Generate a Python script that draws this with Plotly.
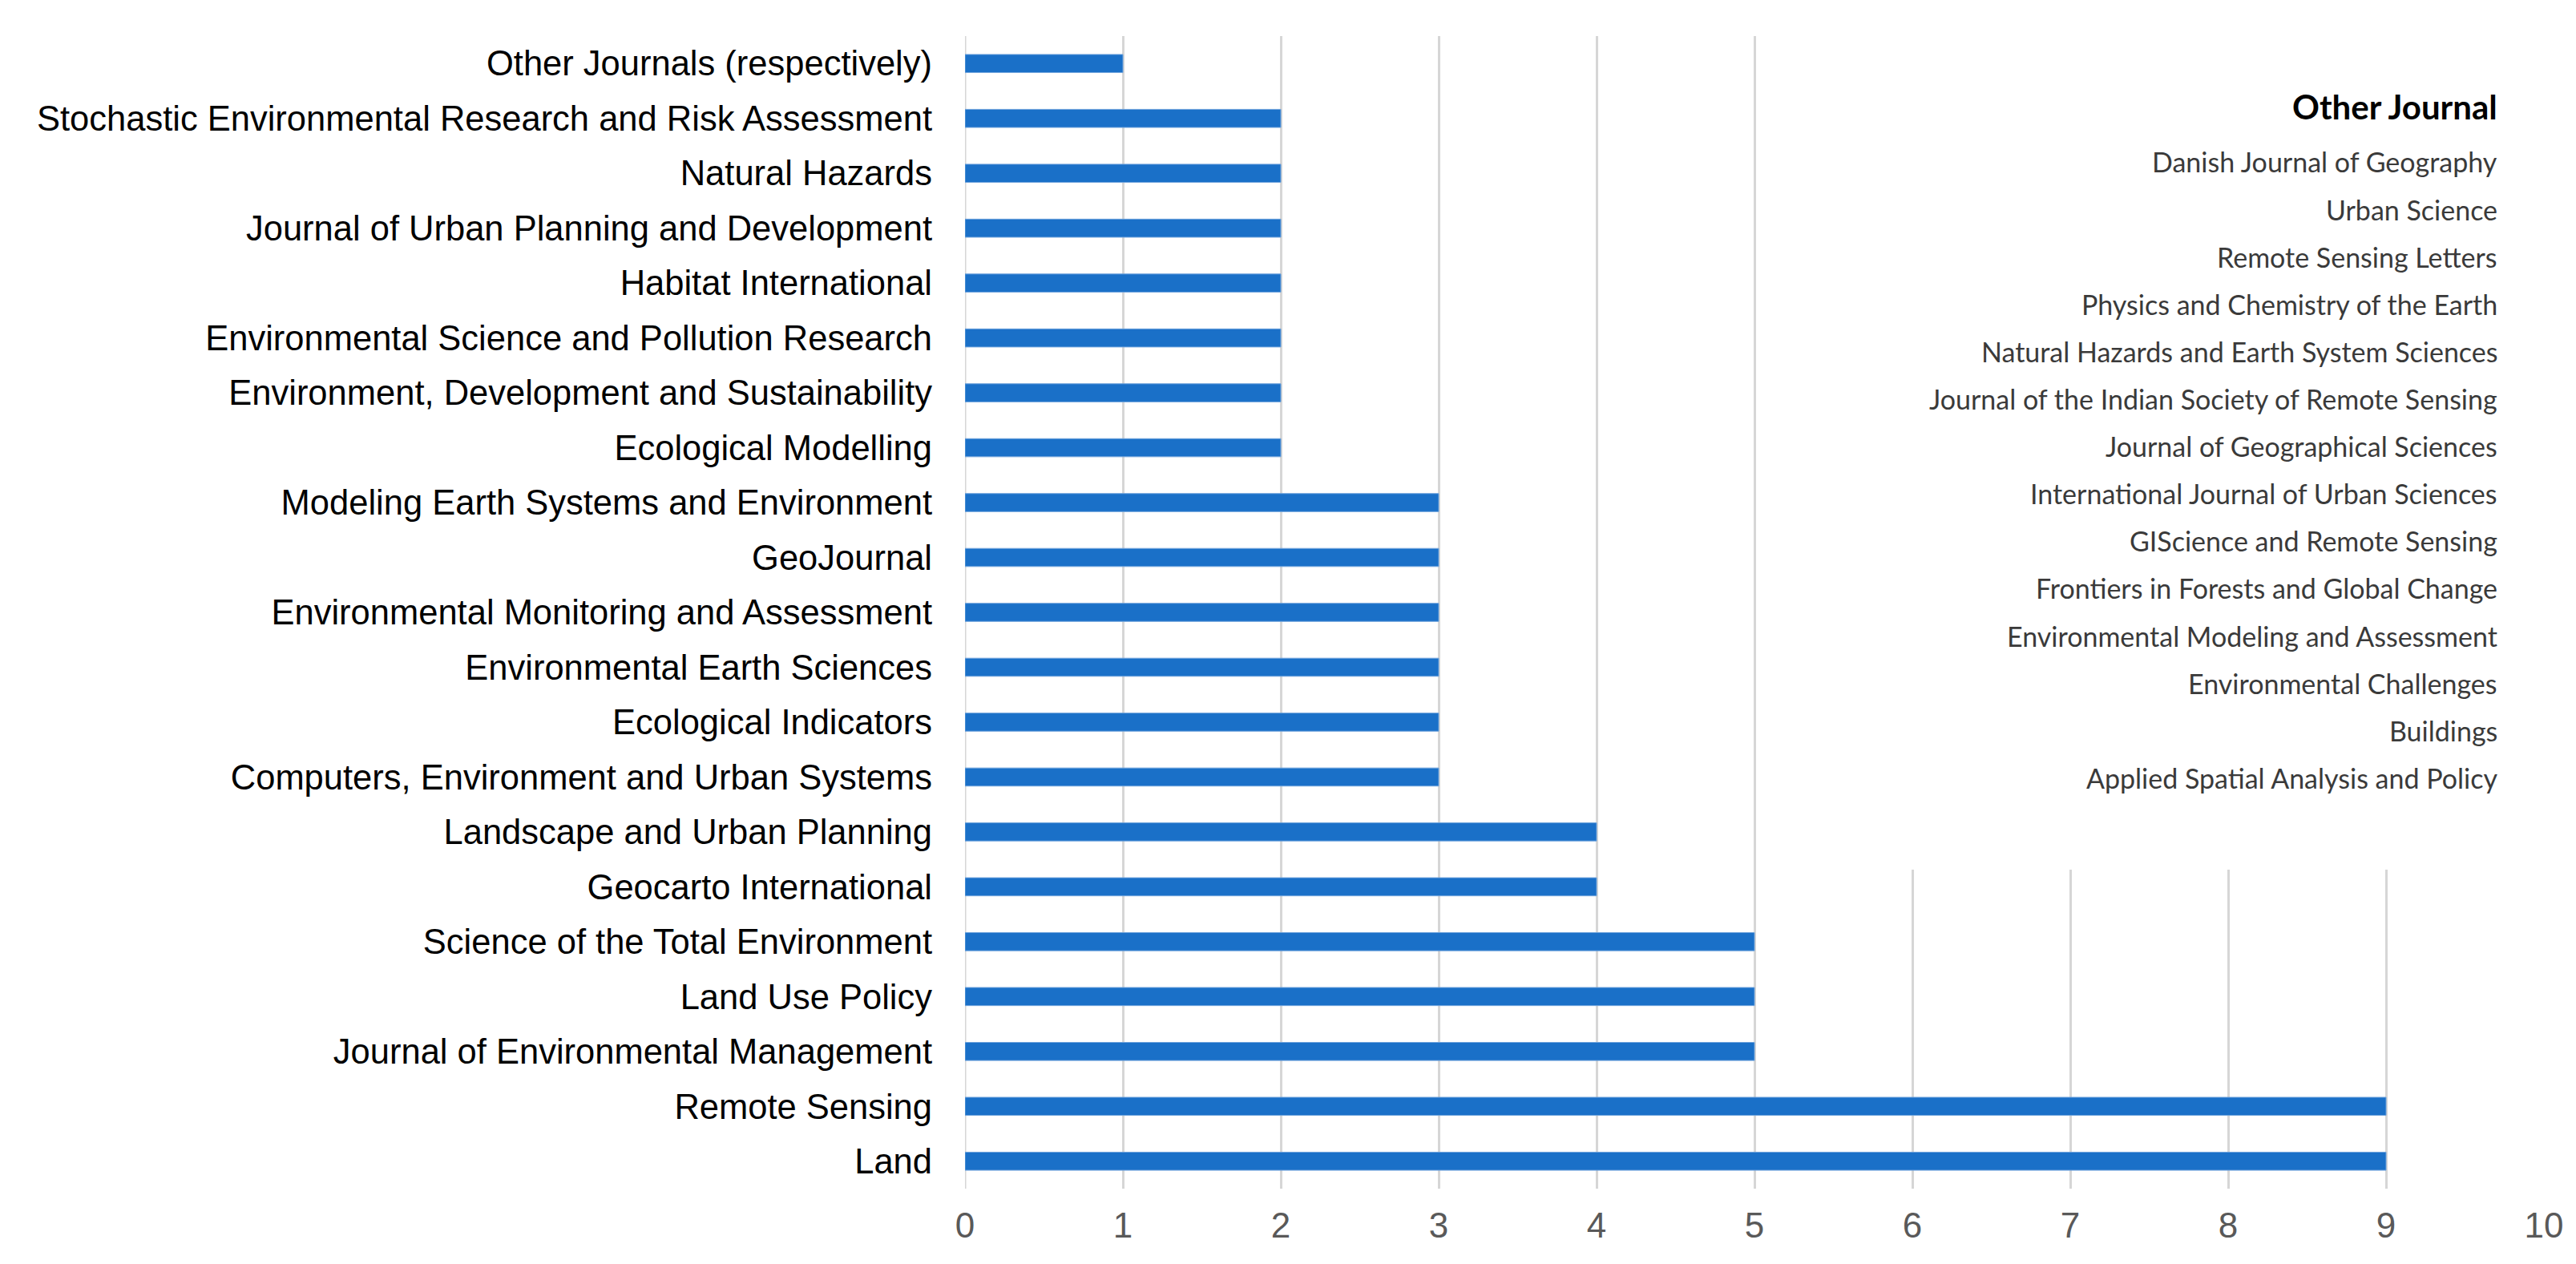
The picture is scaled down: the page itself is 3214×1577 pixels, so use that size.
import plotly.graph_objects as go

# Journals, top to bottom as shown
journals = [
    "Other Journals (respectively)",
    "Stochastic Environmental Research and Risk Assessment",
    "Natural Hazards",
    "Journal of Urban Planning and Development",
    "Habitat International",
    "Environmental Science and Pollution Research",
    "Environment, Development and Sustainability",
    "Ecological Modelling",
    "Modeling Earth Systems and Environment",
    "GeoJournal",
    "Environmental Monitoring and Assessment",
    "Environmental Earth Sciences",
    "Ecological Indicators",
    "Computers, Environment and Urban Systems",
    "Landscape and Urban Planning",
    "Geocarto International",
    "Science of the Total Environment",
    "Land Use Policy",
    "Journal of Environmental Management",
    "Remote Sensing",
    "Land",
]
counts = [1, 2, 2, 2, 2, 2, 2, 2, 3, 3, 3, 3, 3, 3, 4, 4, 5, 5, 5, 9, 9]

# Journals with one article each, listed in the side box
other_title = "Other Journal"
other_journals = [
    "Danish Journal of Geography",
    "Urban Science",
    "Remote Sensing Letters",
    "Physics and Chemistry of the Earth",
    "Natural Hazards and Earth System Sciences",
    "Journal of the Indian Society of Remote Sensing",
    "Journal of Geographical Sciences",
    "International Journal of Urban Sciences",
    "GIScience and Remote Sensing",
    "Frontiers in Forests and Global Change",
    "Environmental Modeling and Assessment",
    "Environmental Challenges",
    "Buildings",
    "Applied Spatial Analysis and Policy",
]
x_ticks = list(range(0, 11))

W, H = 3214, 1577
L, R, T, B = 1196, 48, 37, 102
plot_h = H - T - B

fig = go.Figure()
fig.add_trace(go.Bar(
    x=counts,
    y=journals,
    orientation="h",
    width=0.33,
    marker=dict(color="#1a70c8", line=dict(color="#6fa3dc", width=1)),
    showlegend=False,
))

# white text box hiding the gridlines behind the list
box_bottom = 1 - (1077 - T) / plot_h
fig.add_shape(type="rect", xref="x", yref="paper",
              x0=5.55, x1=9.92, y0=box_bottom, y1=1.0,
              fillcolor="white", line=dict(width=0), layer="above")

def px_to_paper_y(py):
    return 1 - (py - T) / plot_h

text_right = (3110 - L) / (W - L - R)
fig.add_annotation(text="<b>" + other_title + "</b>", xref="paper", yref="paper",
                   x=text_right, y=px_to_paper_y(125), xanchor="right", yanchor="middle",
                   showarrow=False, font=dict(family="Lato", size=42, color="#000000"))
for i, name in enumerate(other_journals):
    fig.add_annotation(text=name, xref="paper", yref="paper",
                       x=text_right, y=px_to_paper_y(194 + i * 59.1),
                       xanchor="right", yanchor="middle", showarrow=False,
                       font=dict(family="Lato", size=34, color="#3a3a3a"))

fig.update_layout(
    width=W, height=H,
    margin=dict(l=L, r=R, t=T, b=B, pad=0),
    paper_bgcolor="white",
    plot_bgcolor="white",
    font=dict(family="Liberation Sans, Arial, sans-serif", color="#000000"),
)
fig.update_xaxes(
    range=[0, 10], tickvals=x_ticks, showgrid=True, gridcolor="#d6d6d6", gridwidth=3,
    zeroline=False, showline=False, ticks="",
    tickfont=dict(size=44, color="#595959"), ticklabelstandoff=16,
)
fig.update_yaxes(
    autorange="reversed", showgrid=False, zeroline=False, showline=False, ticks="",
    tickfont=dict(size=43.5, color="#000000"), ticklabelstandoff=40,
)
# gridline at zero
fig.add_vline(x=0, line=dict(color="#d6d6d6", width=3), layer="below")

fig.write_html("out.html")
